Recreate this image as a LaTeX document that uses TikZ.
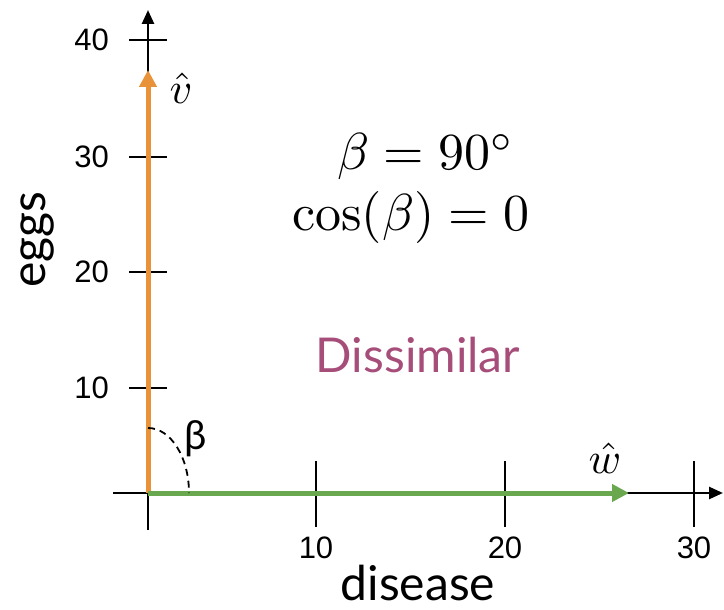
\documentclass[tikz,border=0pt]{standalone}
\usepackage{fontspec}
\usepackage{amsmath}
\newfontfamily\latofont{Lato}
\newfontfamily\arialfont{Liberation Sans}
\usetikzlibrary{arrows.meta}
\definecolor{vorange}{HTML}{E8923A}
\definecolor{wgreen}{HTML}{6AA84F}
\definecolor{dispurple}{HTML}{A64D79}
\tikzset{
  axisline/.style={line width=2.6pt, -{Triangle[length=14pt,width=12pt]}},
  tickline/.style={line width=1.8pt},
  ticklabel/.style={font=\arialfont\fontsize{31}{33}\selectfont, inner sep=0pt},
  vecarrow/.style={line width=5pt, -{Triangle[length=17pt,width=17pt]}},
  bigtext/.style={font=\latofont\fontsize{48}{52}\selectfont, inner sep=0pt},
  mathtext/.style={font=\normalsize, scale=5.2, inner sep=0pt},
  hatlabel/.style={font=\normalsize, scale=4.4, inner sep=0pt},
}
\begin{document}
\begin{tikzpicture}[x=1pt,y=-1pt]
\useasboundingbox (0,0) rectangle (724,610);
% axes
\coordinate (o) at (148,493);
\coordinate (xs) at (113,493);
\coordinate (xe) at (723,493);
\coordinate (ys) at (148,530);
\coordinate (ye) at (148,10);
\draw[axisline] (xs) -- (xe);
\draw[axisline] (ys) -- (ye);
% x ticks
\foreach \x/\l in {316/10,505/20,694/30}{
  \coordinate (xt\l a) at (\x,461);
  \coordinate (xt\l b) at (\x,527);
  \draw[tickline] (xt\l a) -- (xt\l b);
  \node[ticklabel] (xl\l) at (\x,548) {\l};
}
% y ticks
\foreach \y/\l in {388/10,272/20,157/30,40/40}{
  \coordinate (yt\l a) at (129,\y);
  \coordinate (yt\l b) at (167,\y);
  \draw[tickline] (yt\l a) -- (yt\l b);
  \node[ticklabel, anchor=east] (yl\l) at (109,\y) {\l};
}
% vectors
\coordinate (vtip) at (148,70);
\coordinate (wtip) at (629,493);
\draw[vecarrow, vorange] (o) -- (vtip);
\draw[vecarrow, wgreen] (o) -- (wtip);
% angle arc
\draw[line width=1.8pt, dash pattern=on 7pt off 5pt] (148,428) arc[start angle=90, end angle=0, x radius=41, y radius=-65];
\node[font=\latofont\fontsize{40}{44}\selectfont, inner sep=0pt] (beta) at (196,439) {β};
% labels
\node[hatlabel] (vlab) at (181,88) {$\hat{v}$};
\node[hatlabel] (wlab) at (605,458) {$\hat{w}$};
\node[mathtext] (eq1) at (426,157) {$\beta = 90^\circ$};
\node[mathtext] (eq2) at (411,217) {$\cos(\beta) = 0$};
\node[bigtext, text=dispurple] (dis) at (418,355) {Dissimilar};
\node[bigtext] (xname) at (418,583) {disease};
\node[bigtext, rotate=90] (yname) at (38,240) {eggs};
\end{tikzpicture}
\end{document}
